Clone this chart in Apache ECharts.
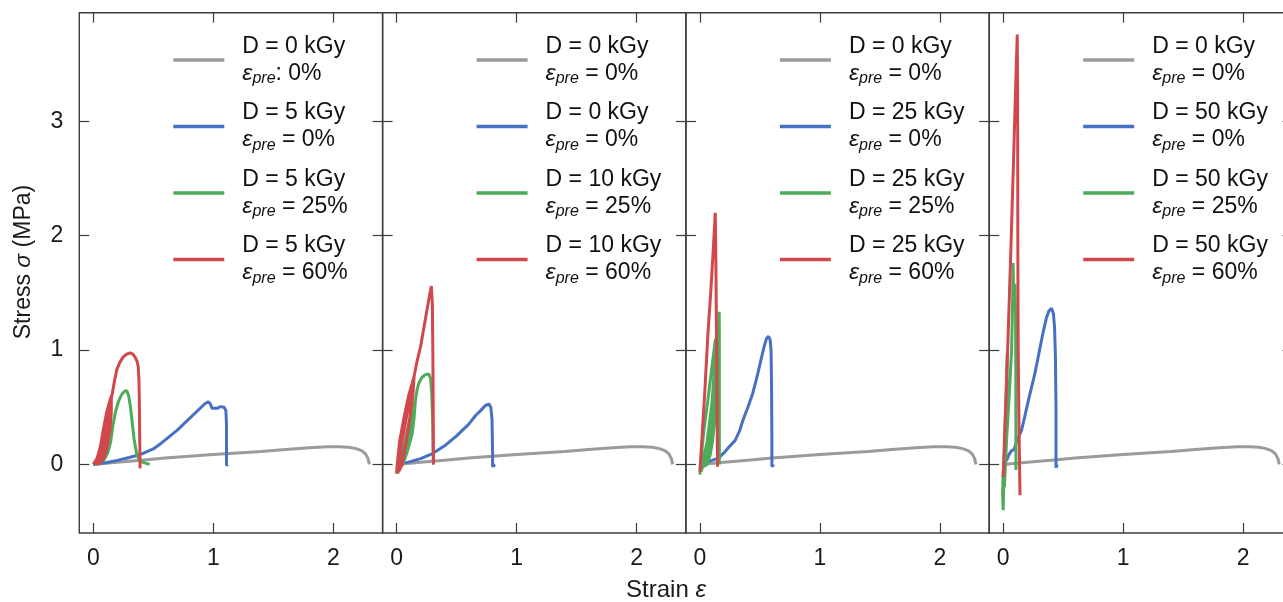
<!DOCTYPE html>
<html>
<head>
<meta charset="utf-8">
<title>Stress–strain curves</title>
<script src="https://cdn.jsdelivr.net/npm/echarts@6/dist/echarts.min.js"></script>
<style>
  html, body { margin: 0; padding: 0; background: #fff; }
  #chart { width: 1283px; height: 602px; }
</style>
</head>
<body>
<div id="chart"></div>
<script>
// ---- tick positions ----
const xTicks = [0, 1, 2];
const yTicks = [0, 1, 2, 3];

// ---- legend text per panel: dose and pre-strain ----
const doses = [
  ['0', '5', '5', '5'],
  ['0', '0', '10', '10'],
  ['0', '25', '25', '25'],
  ['0', '50', '50', '50']
];
const preStrains = [
  [': 0%', ' = 0%', ' = 25%', ' = 60%'],
  [' = 0%', ' = 0%', ' = 25%', ' = 60%'],
  [' = 0%', ' = 0%', ' = 25%', ' = 60%'],
  [' = 0%', ' = 0%', ' = 25%', ' = 60%']
];

// ---- curves: [strain, stress (MPa)] ----
// unirradiated reference sample (shown in every panel)
const reference = [[0,0],[0.2,0.018],[0.4,0.037],[0.6,0.055],[0.8,0.071],[1.0,0.087],[1.2,0.1],[1.4,0.113],[1.6,0.13],[1.8,0.145],[1.95,0.154],[2.05,0.155],[2.13,0.15],[2.19,0.138],[2.24,0.118],[2.27,0.09],[2.29,0.05],[2.3,0.0]];

// D = 5 kGy
const p1Blue = [[0,0],[0.1,0.015],[0.2,0.035],[0.3,0.06],[0.4,0.09],[0.5,0.135],[0.56,0.18],[0.6,0.215],[0.7,0.3],[0.8,0.4],[0.88,0.48],[0.93,0.53],[0.958,0.548],[0.975,0.53],[0.99,0.49],[1.0,0.475],[1.03,0.49],[1.06,0.505],[1.09,0.5],[1.105,0.47],[1.11,0.35],[1.11,0.1],[1.11,-0.01],[1.12,0.0]];
const p1Green = [[0,0],[0.05,0.01],[0.09,0.04],[0.12,0.1],[0.145,0.2],[0.165,0.35],[0.185,0.46],[0.21,0.55],[0.236,0.61],[0.26,0.64],[0.278,0.645],[0.295,0.6],[0.31,0.5],[0.325,0.36],[0.34,0.22],[0.36,0.1],[0.38,0.04],[0.42,0.015],[0.47,0.0]];
const p1Red = [[0,0],[0.03,0.05],[0.058,0.15],[0.083,0.3],[0.11,0.45],[0.15,0.6],
  [0.155,0.6],[0.15,0.45],[0.139,0.3],[0.115,0.15],[0.085,0.05],[0.04,0.0],
  [0.06,0.05],[0.085,0.15],[0.11,0.3],[0.13,0.45],[0.152,0.6],
  [0.145,0.45],[0.125,0.3],[0.1,0.15],[0.07,0.05],[0.02,0.0],
  [0.045,0.05],[0.07,0.15],[0.097,0.3],[0.122,0.45],[0.155,0.6],
  [0.175,0.72],[0.195,0.826],[0.22,0.89],[0.25,0.94],[0.28,0.965],[0.306,0.976],[0.33,0.965],[0.347,0.94],[0.365,0.9],[0.375,0.85],[0.38,0.74],[0.383,0.59],[0.386,0.3],[0.39,-0.035]];

// D = 10 kGy
const p2Blue = [[0,0],[0.1,0.02],[0.2,0.05],[0.3,0.095],[0.41,0.17],[0.5,0.25],[0.55,0.3],[0.6,0.35],[0.66,0.43],[0.7,0.47],[0.74,0.515],[0.77,0.527],[0.785,0.5],[0.795,0.4],[0.8,0.1],[0.8,-0.02],[0.82,0.0]];
const p2Green = [[0.01,-0.08],[0.03,0.0],[0.06,0.15],[0.09,0.3],[0.12,0.45],[0.14,0.55],
  [0.125,0.4],[0.1,0.22],[0.07,0.07],[0.04,-0.02],
  [0.07,0.05],[0.1,0.15],[0.13,0.27],[0.145,0.4],[0.157,0.56],[0.17,0.65],[0.185,0.71],[0.21,0.76],[0.24,0.785],[0.268,0.79],[0.283,0.75],[0.293,0.62],[0.3,0.4],[0.304,0.13],[0.307,0.0]];
const p2Red = [[0,-0.08],[0.005,0.0],[0.025,0.2],[0.06,0.4],[0.1,0.6],[0.146,0.77],
  [0.135,0.6],[0.11,0.4],[0.08,0.2],[0.045,0.0],[0.02,-0.06],
  [0.02,0.0],[0.045,0.2],[0.08,0.4],[0.12,0.6],[0.146,0.77],
  [0.17,0.9],[0.2,1.03],[0.248,1.32],[0.275,1.48],[0.29,1.56],[0.298,1.4],[0.302,1.0],[0.305,0.5],[0.307,0.0]];

// D = 25 kGy
const p3Blue = [[0,0],[0.05,0.02],[0.1,0.035],[0.155,0.055],[0.2,0.1],[0.244,0.154],[0.294,0.21],[0.33,0.29],[0.36,0.39],[0.4,0.5],[0.44,0.62],[0.475,0.76],[0.508,0.91],[0.535,1.03],[0.555,1.1],[0.572,1.12],[0.585,1.09],[0.593,1.0],[0.597,0.7],[0.6,0.2],[0.6,-0.02],[0.615,0.0]];
const p3Green = [[0,-0.09],[0.015,0.1],[0.03,0.27],[0.065,0.55],[0.1,0.85],[0.13,1.1],
  [0.125,0.9],[0.105,0.6],[0.085,0.35],[0.06,0.15],[0.03,0.0],[0.01,-0.06],
  [0.03,0.05],[0.06,0.2],[0.09,0.45],[0.12,0.7],[0.14,0.95],
  [0.135,0.7],[0.115,0.45],[0.09,0.25],[0.06,0.08],[0.035,-0.02],
  [0.06,0.0],[0.085,0.08],[0.105,0.2],[0.125,0.4],[0.143,0.65],[0.155,0.85],[0.16,1.1],[0.161,1.335],[0.162,1.0],[0.162,0.5],[0.162,0.0]];
const p3Red = [[0,-0.065],[0.02,0.28],[0.04,0.62],[0.067,1.146],[0.09,1.5],[0.11,1.85],[0.128,2.2],[0.133,1.8],[0.138,1.15],[0.142,0.6],[0.147,-0.02]];

// D = 50 kGy
const p4Blue = [[0,0],[0.03,0.04],[0.05,0.09],[0.07,0.12],[0.09,0.13],[0.12,0.22],[0.153,0.3],[0.18,0.42],[0.21,0.56],[0.24,0.69],[0.265,0.8],[0.29,0.93],[0.32,1.09],[0.34,1.19],[0.36,1.28],[0.38,1.34],[0.403,1.365],[0.418,1.32],[0.428,1.2],[0.435,0.95],[0.44,0.5],[0.44,-0.03],[0.45,0.0]];
const p4Green = [[0,-0.05],[-0.005,-0.25],[0,-0.4],[0.012,0.2],[0.025,0.6],[0.033,0.97],[0.03,0.6],[0.022,0.2],[0.01,-0.2],[0.03,0.25],[0.05,0.6],[0.07,1.0],[0.078,1.4],[0.083,1.76],[0.086,1.5],[0.09,1.4],[0.095,1.5],[0.098,1.58],[0.103,1.3],[0.105,0.8],[0.106,0.3],[0.106,-0.05]];
const p4Red = [[0,-0.11],[0.018,0.45],[0.037,1.0],[0.064,1.88],[0.09,2.8],[0.108,3.45],[0.117,3.76],[0.12,3.3],[0.121,2.6],[0.122,1.88],[0.125,1.0],[0.132,0.3],[0.14,-0.27]];

const panels = [
  [reference, p1Blue, p1Green, p1Red],
  [reference, p2Blue, p2Green, p2Red],
  [reference, p3Blue, p3Green, p3Red],
  [reference, p4Blue, p4Green, p4Red]
];

const colors = ['#9b9b9b', '#4670c1', '#4dab5a', '#d2474c'];
const FONT = '"Liberation Sans", Arial, Helvetica, sans-serif';
const AXIS_COLOR = '#3c3c3c';

// ---- layout ----
const gridLeft0 = 79.3, gridStep = 303.3, gridTop = 12.7, gridHeight = 520.3;
const xMin = -0.1167, xMax = 2.411;
const yMin = -0.6, yMax = 3.95;

const grids = [], xAxes = [], yAxes = [], series = [], legends = [];
const labelMap = {};

const tickStyle = { color: AXIS_COLOR, width: 1.2 };
const hiddenLine = { show: false, onZero: false };

for (let p = 0; p < 4; p++) {
  const left = gridLeft0 + p * gridStep;
  grids.push({
    left: left, top: gridTop, width: gridStep, height: gridHeight,
    outerBoundsMode: 'none', containLabel: false,
    show: true, borderColor: AXIS_COLOR, borderWidth: 1.4, backgroundColor: 'transparent'
  });
  // bottom and top x axes
  xAxes.push({
    type: 'value', gridIndex: p, min: xMin, max: xMax, position: 'bottom',
    axisLine: hiddenLine, splitLine: { show: false },
    axisTick: { inside: true, length: 10, customValues: xTicks, lineStyle: tickStyle },
    axisLabel: { customValues: xTicks, fontSize: 23, margin: 14, color: '#1a1a1a', fontFamily: FONT }
  });
  xAxes.push({
    type: 'value', gridIndex: p, min: xMin, max: xMax, position: 'top',
    axisLine: hiddenLine, splitLine: { show: false },
    axisTick: { inside: true, length: 10, customValues: xTicks, lineStyle: tickStyle },
    axisLabel: { show: false }
  });
  // left and right y axes
  yAxes.push({
    type: 'value', gridIndex: p, min: yMin, max: yMax, position: 'left',
    axisLine: hiddenLine, splitLine: { show: false },
    axisTick: { inside: true, length: 10, customValues: yTicks, lineStyle: tickStyle },
    axisLabel: { show: p === 0, customValues: yTicks, fontSize: 23, margin: 16, color: '#1a1a1a', fontFamily: FONT }
  });
  yAxes.push({
    type: 'value', gridIndex: p, min: yMin, max: yMax, position: 'right',
    axisLine: hiddenLine, splitLine: { show: false },
    axisTick: { inside: true, length: 10, customValues: yTicks, lineStyle: tickStyle },
    axisLabel: { show: false }
  });

  const names = [];
  panels[p].forEach((data, k) => {
    const name = 'P' + (p + 1) + '-' + k;
    names.push(name);
    labelMap[name] = '{t|D = ' + doses[p][k] + ' kGy}\n{e|ε}{s|pre}{t|' + preStrains[p][k] + '}';
    series.push({
      name: name, type: 'line', xAxisIndex: 2 * p, yAxisIndex: 2 * p,
      data: data, showSymbol: false, symbol: 'none', smooth: false,
      color: colors[k], lineStyle: { color: colors[k], width: 3 },
      z: 2 + k, animation: false, silent: true
    });
  });

  legends.push({
    data: names, orient: 'vertical', left: left + 94, top: 35,
    padding: 0, itemGap: 14.5, itemWidth: 51, itemHeight: 3.5, icon: 'rect',
    selectedMode: false,
    formatter: function (n) { return labelMap[n]; },
    textStyle: {
      padding: [0, 0, 0, 13],
      rich: {
        t: { fontSize: 23, lineHeight: 27, color: '#111', fontFamily: FONT },
        e: { fontSize: 23, lineHeight: 27, color: '#111', fontFamily: FONT, fontStyle: 'italic' },
        s: { fontSize: 16, lineHeight: 17, color: '#111', fontFamily: FONT, fontStyle: 'italic', verticalAlign: 'bottom' }
      }
    }
  });
}

const chart = echarts.init(document.getElementById('chart'), null, { renderer: 'canvas' });
chart.setOption({
  backgroundColor: '#ffffff',
  animation: false,
  grid: grids,
  xAxis: xAxes,
  yAxis: yAxes,
  legend: legends,
  series: series,
  graphic: [
    {
      type: 'text', x: 666, y: 590,
      style: {
        text: '{a|Strain }{b|ε}', align: 'center', verticalAlign: 'middle',
        rich: {
          a: { fontSize: 24, fontFamily: FONT, fill: '#1a1a1a' },
          b: { fontSize: 24, fontFamily: FONT, fontStyle: 'italic', fill: '#1a1a1a' }
        }
      }
    },
    {
      type: 'text', x: 24, y: 262, rotation: Math.PI / 2,
      style: {
        text: '{a|Stress }{b|σ}{a| (MPa)}', align: 'center', verticalAlign: 'middle',
        rich: {
          a: { fontSize: 23, fontFamily: FONT, fill: '#1a1a1a' },
          b: { fontSize: 23, fontFamily: FONT, fontStyle: 'italic', fill: '#1a1a1a' }
        }
      }
    }
  ]
});
</script>
</body>
</html>
